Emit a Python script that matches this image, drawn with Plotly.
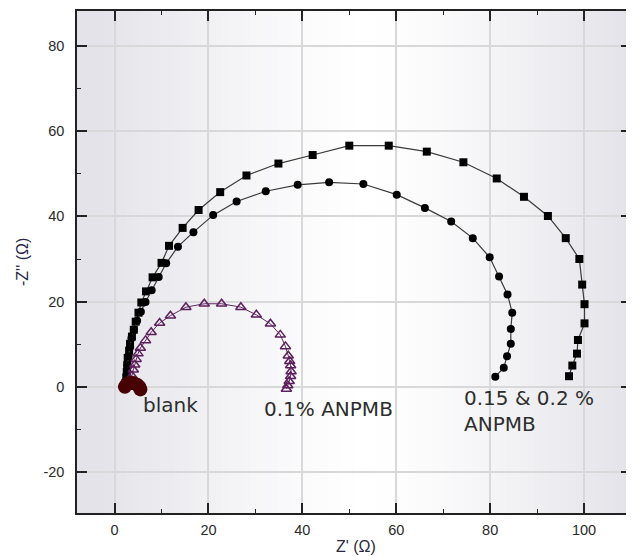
import plotly.graph_objects as go

# ---- data ----
sq_x = [96.8, 97.5, 98.5, 98.7, 100.1, 100.1, 99.6, 99.0, 96.1, 92.3, 87.2, 81.4, 74.3, 66.5,
        58.4, 50.0, 42.2, 34.9, 28.1, 22.5, 17.9, 14.5, 11.6, 10.0, 8.1, 6.7, 5.7, 5.1, 4.5,
        4.1, 3.7, 3.3, 3.1, 2.8, 2.7, 2.6, 2.5, 2.4]
sq_y = [2.5, 5.0, 7.8, 11.0, 14.9, 19.4, 24.0, 30.0, 34.9, 40.1, 44.6, 48.9, 52.7, 55.2,
        56.6, 56.6, 54.4, 52.4, 49.6, 45.7, 41.5, 37.3, 33.1, 29.1, 25.7, 22.4, 19.8, 17.4, 15.3,
        13.4, 11.8, 10.1, 8.5, 6.8, 5.1, 3.5, 2.2, 1.0]

ci_x = [81.1, 82.9, 83.6, 84.4, 84.4, 84.7, 83.7, 81.9, 79.9, 76.3, 71.7, 66.1, 60.1, 53.0,
        45.7, 39.0, 32.2, 26.0, 21.0, 16.8, 13.5, 11.0, 9.4, 7.9, 6.6, 5.6, 4.8, 4.1, 3.6,
        3.3, 3.0, 2.7, 2.7, 2.6]
ci_y = [2.4, 4.5, 7.2, 10.1, 13.6, 17.4, 21.7, 25.9, 30.4, 34.9, 38.8, 42.0, 45.1, 47.6,
        48.0, 47.4, 45.9, 43.5, 40.3, 36.3, 32.9, 29.0, 25.8, 22.7, 19.9, 17.6, 15.5, 13.4, 11.4,
        9.3, 7.2, 5.1, 3.5, 2.0]

tr_x = [36.6, 36.9, 37.2, 37.5, 37.6, 37.5, 37.3, 37.0, 36.4, 35.3, 33.2, 30.2, 26.9, 22.8,
        19.1, 15.2, 11.9, 9.6, 7.8, 6.6, 5.5, 5.0, 4.6, 4.3, 4.0, 3.7, 3.4]
tr_y = [-0.5, 0.3, 1.3, 2.5, 3.6, 5.0, 6.0, 7.3, 9.5, 12.2, 14.8, 16.9, 18.7, 19.5,
        19.5, 18.7, 16.7, 15.0, 12.8, 10.9, 9.1, 7.8, 6.5, 5.2, 4.0, 2.6, 1.7]

bl_x = [2.2, 2.6, 3.2, 4.0, 4.8, 5.3, 5.5]
bl_y = [0.0, 0.6, 0.9, 0.9, 0.5, 0.0, -0.6]

x_ticks = [0, 20, 40, 60, 80, 100]
y_ticks = [-20, 0, 20, 40, 60, 80]

labels = ["blank", "0.1% ANPMB", "0.15 & 0.2 %<br>ANPMB"]
label_x = [5.7, 31.5, 74.1]
label_y = [-4.2, -5.1, -5.6]

x_title = "Z' (Ω)"
y_title = "-Z'' (Ω)"

fig = go.Figure()

fig.add_trace(go.Scatter(x=sq_x, y=sq_y, mode="lines+markers",
                         line=dict(color="#3a3a3a", width=1.2),
                         marker=dict(symbol="square", size=8, color="black")))
fig.add_trace(go.Scatter(x=ci_x, y=ci_y, mode="lines+markers",
                         line=dict(color="#3a3a3a", width=1.2),
                         marker=dict(symbol="circle", size=8, color="black")))
fig.add_trace(go.Scatter(x=tr_x, y=tr_y, mode="lines+markers",
                         line=dict(color="#5e2a5e", width=1),
                         marker=dict(symbol="triangle-up-open", size=9, color="#5e1f5e",
                                     line=dict(width=1.5, color="#5e1f5e"))))
fig.add_trace(go.Scatter(x=bl_x, y=bl_y, mode="markers",
                         marker=dict(symbol="circle", size=14, color="#470206")))

for t, xx, yy in zip(labels, label_x, label_y):
    fig.add_annotation(x=xx, y=yy, text=t, showarrow=False, xanchor="left", yanchor="middle",
                       align="left", font=dict(family="DejaVu Sans", size=20, color="#2e2e2e"))

# axis titles as annotations
fig.add_annotation(xref="paper", yref="paper", x=0.503, y=0, yshift=-33, text=x_title,
                   showarrow=False, xanchor="center", yanchor="middle",
                   font=dict(family="Arial", size=16, color="#2a2a3a"))
fig.add_annotation(xref="paper", yref="paper", x=0, y=0.5, xshift=-55, text=y_title,
                   showarrow=False, textangle=-90, xanchor="center", yanchor="middle",
                   font=dict(family="Arial", size=16, color="#2a2a4a"))

# plot-area horizontal gradient
shapes = []
N = 80
for i in range(N):
    f = (i + 0.5) / N
    d = min(1.0, abs(f - 0.52) / 0.48)
    k = d ** 1.3
    r = round(255 - (255 - 227) * k)
    b = round(255 - (255 - 233) * k)
    col = f"rgb({r},{r},{b})"
    shapes.append(dict(type="rect", xref="x domain", yref="y domain", x0=i / N, x1=(i + 1) / N + 0.002,
                       y0=0, y1=1, fillcolor=col, line_width=0, layer="below"))

fig.update_layout(
    width=626, height=548,
    margin=dict(l=69, r=1, t=3, b=43),
    paper_bgcolor="white",
    plot_bgcolor="white",
    showlegend=False,
    shapes=shapes,
    font=dict(family="Arial", size=13, color="#2a2a2a"),
)
axis_common = dict(showline=True, linecolor="#222222", linewidth=1.5, mirror="ticks",
                   ticks="inside", ticklen=10, tickwidth=1.5, tickcolor="#222222",
                   showgrid=True, gridcolor="#d8d8d8", gridwidth=1.5, zeroline=False,
                   tickfont=dict(family="Arial", size=14.5, color="#2a2a2a"),
                   minor=dict(ticks="inside", ticklen=4, tickwidth=1.2, tickcolor="#222222",
                              dtick=10, showgrid=False))
fig.update_xaxes(range=[-8, 110], tickvals=x_ticks, ticktext=[str(v) for v in x_ticks],
                 ticklabelstandoff=3, **axis_common)
fig.update_yaxes(range=[-29.6, 88.2], tickvals=y_ticks, ticktext=[str(v) for v in y_ticks],
                 ticklabelstandoff=8, **axis_common)

fig.write_html("out.html")
